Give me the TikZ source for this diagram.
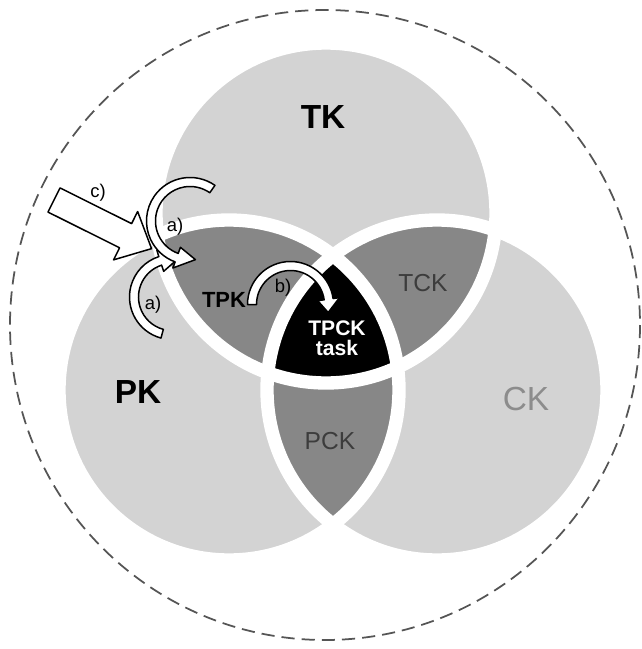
\documentclass[tikz,border=0pt]{standalone}
\usepackage{fontspec}
\setmainfont{Liberation Sans}
\usetikzlibrary{calc}
\definecolor[named]{VennLight}{HTML}{D3D3D3}
\definecolor[named]{VennMid}{HTML}{878787}
\definecolor[named]{VennDash}{HTML}{555555}
\definecolor[named]{VennText}{HTML}{3C3C3C}
\definecolor[named]{VennPale}{HTML}{8C8C8C}
\tikzset{
  bigname/.style={inner sep=0pt, font=\fontsize{19}{22}\selectfont\bfseries},
  smallname/.style={inner sep=0pt, font=\fontsize{14}{16}\selectfont, VennText},
  steplabel/.style={inner sep=0pt, font=\fontsize{10.5}{12}\selectfont},
  hollow/.style={draw=black, fill=white, line width=0.85pt, line join=round},
  band/.style={draw=white, line width=7.6pt}
}
% hollow bent arrow: centre, radius, start angle, end angle, tip angle
\newcommand{\bentarrow}[5]{%
  \pgfmathsetmacro\arcout{#2+4.5}\pgfmathsetmacro\arcin{#2-4.5}%
  \pgfmathsetmacro\headout{#2+11}\pgfmathsetmacro\headin{#2-11}%
  \draw[hollow] ($#1+(#3:\arcout)$) arc[start angle=#3, end angle=#4, radius=\arcout]
    -- ($#1+(#4:\headout)$) -- ($#1+(#5:#2)$) -- ($#1+(#4:\headin)$)
    -- ($#1+(#4:\arcin)$) arc[start angle=#4, end angle=#3, radius=\arcin] -- cycle;}

\begin{document}
\begin{tikzpicture}[x=0.02cm,y=-0.02cm]
  \useasboundingbox (0,0) rectangle (642,649);
  \coordinate (tk) at (326,213);
  \coordinate (pk) at (229,390);
  \coordinate (ck) at (437,390);
  % the three sets
  \fill[VennLight] (tk) circle[radius=170];
  \fill[VennLight] (pk) circle[radius=170];
  \fill[VennLight] (ck) circle[radius=170];
  \begin{scope}
    \clip (tk) circle[radius=170];
    \fill[VennMid] (pk) circle[radius=170];
    \fill[VennMid] (ck) circle[radius=170];
  \end{scope}
  \begin{scope}
    \clip (pk) circle[radius=170];
    \fill[VennMid] (ck) circle[radius=170];
  \end{scope}
  \begin{scope}
    \clip (tk) circle[radius=170];
    \clip (pk) circle[radius=170];
    \fill[black] (ck) circle[radius=170];
  \end{scope}
  \draw[band] (tk) circle[radius=170];
  \draw[band] (pk) circle[radius=170];
  \draw[band] (ck) circle[radius=170];
  \draw[VennDash, line width=1pt, dash pattern=on 7.5pt off 4pt] (325,325) circle[radius=315];

  \node[bigname] (TK) at (323,117) {TK};
  \node[bigname] (PK) at (138,392) {PK};
  \node[bigname, font=\fontsize{19}{22}\selectfont, VennPale] (CK) at (526,399) {CK};
  \node[smallname] (TCK) at (423,283) {TCK};
  \node[smallname] (PCK) at (330,441) {PCK};
  \node[inner sep=0pt, font=\fontsize{12.5}{14}\selectfont\bfseries] (TPK) at (224,300) {TPK};
  \node[inner sep=0pt, white, align=center, font=\fontsize{12}{11.4}\selectfont\bfseries] (TPCK) at (337,338) {TPCK\\task};

  % c) straight arrow
  \coordinate (ctail) at (54,200);
  \coordinate (chead) at ($(ctail)+(26.5:80)$);
  \draw[hollow] ($(ctail)+(-63.5:13.5)$) -- ($(chead)+(-63.5:13.5)$) -- ($(chead)+(-63.5:27)$)
    -- ($(ctail)+(26.5:109)$) -- ($(chead)+(116.5:27)$) -- ($(chead)+(116.5:13.5)$)
    -- ($(ctail)+(116.5:13.5)$) -- cycle;
  % a) and b) bent arrows
  \bentarrow{(172,297)}{38}{105}{252}{278}
  \bentarrow{(190,221)}{39}{-55}{-250}{-278}
  \bentarrow{(290.5,304.5)}{38.5}{180}{352}{12}

  \node[steplabel] (c) at (98,193) {c)};
  \node[steplabel] (a1) at (175,227) {a)};
  \node[steplabel] (a2) at (153,305) {a)};
  \node[steplabel] (b) at (283,288) {b)};
\end{tikzpicture}
\end{document}
